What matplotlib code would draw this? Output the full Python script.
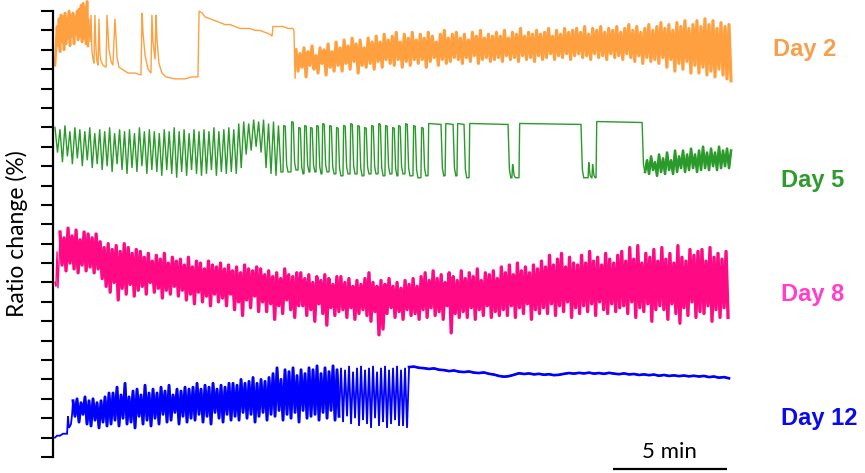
import numpy as np
import matplotlib
matplotlib.use("Agg")
import matplotlib.pyplot as plt

# Traces are stacked on one ratio axis (ticks every 10 %); time in minutes.

# ---------------- Day 2 ----------------
day2_burst_span = (0.0, 1.45)
day2_burst = [202, 211, 222, 212, 226, 209, 228, 214, 227, 210, 229, 213, 226, 216, 230, 212,
              228, 217, 229, 213, 227, 218, 230, 215, 231, 217, 233, 214, 234, 216, 232, 213,
              235, 212]
day2_mid_t = [1.49, 1.54, 1.58, 1.62, 1.67, 1.71, 1.75, 1.80, 1.84, 1.89, 1.93, 1.97, 2.02, 2.11,
              2.24, 2.28, 2.32, 2.37, 2.46, 2.54, 2.63, 2.68, 2.72, 2.81, 2.94, 3.20, 3.51, 3.77,
              3.82, 3.86, 3.95, 4.08, 4.21, 4.25, 4.30, 4.39, 4.43, 4.47, 4.56, 4.69, 4.87, 5.26,
              5.70, 6.01, 6.27, 6.32, 6.45, 6.58, 6.80, 7.02, 7.24, 7.46, 7.68, 7.89, 8.11, 8.33,
              8.55, 8.77, 8.99, 9.21, 9.43, 9.52, 9.56, 9.78, 10.00, 10.22, 10.44, 10.48, 10.53]
day2_mid = [226, 214, 228, 209, 205, 203, 228, 210, 204, 202, 226, 208, 204, 202,
            201, 228, 220, 210, 204, 202, 226, 216, 206, 201, 200, 198, 198, 197,
            229, 219, 207, 200, 198, 228, 214, 205, 228, 216, 203, 198, 196, 195,
            195, 196, 196, 230, 229, 227, 226, 225, 224, 223, 223, 222, 221, 221,
            221, 220, 220, 219, 218, 217, 222, 222, 222, 221, 221, 220, 195]
day2_band_span = (10.57, 29.65)
day2_band = [210, 199, 208, 201, 211, 196, 209, 202, 212, 200, 207, 198, 211, 203, 210, 197, 213, 201, 209, 199,
             214, 202, 211, 199, 215, 203, 212, 200, 216, 204, 213, 198, 215, 202, 211, 201, 216, 203, 214, 200,
             217, 204, 214, 201, 218, 205, 215, 203, 217, 202, 219, 205, 214, 201, 218, 204, 216, 202, 219, 205,
             215, 203, 218, 205, 216, 201, 219, 204, 217, 206, 214, 202, 218, 205, 220, 203, 216, 204, 218, 206,
             219, 205, 216, 203, 218, 206, 215, 204, 219, 207, 217, 203, 220, 205, 216, 206, 218, 204, 217, 205,
             219, 206, 217, 204, 220, 207, 216, 205, 219, 206, 218, 204, 221, 207, 217, 205, 219, 206, 218, 204,
             220, 207, 218, 205, 219, 206, 221, 208, 217, 205, 220, 207, 218, 206, 221, 208, 219, 205, 220, 207,
             221, 208, 219, 206, 222, 207, 218, 205, 221, 208, 220, 206, 222, 207, 219, 205, 221, 208, 220, 206,
             222, 207, 219, 205, 221, 208, 223, 206, 220, 204, 222, 207, 219, 203, 221, 206, 223, 204, 220, 205,
             222, 203, 224, 206, 221, 201, 223, 205, 220, 199, 224, 203, 222, 200, 225, 204, 221, 198, 223, 202,
             225, 198, 222, 201, 226, 197, 223, 199, 225, 196, 221, 200, 224, 197, 222, 195, 223, 194]

# ---------------- Day 5 ----------------
day5_early_span = (0.0, 9.91)
day5_early = [170, 157, 169, 152, 171, 155, 168, 151, 170, 154,
              169, 150, 168, 153, 170, 149, 167, 151, 169, 148,
              168, 150, 170, 147, 167, 151, 169, 148, 168, 146,
              169, 149, 167, 147, 170, 150, 168, 146, 169, 148,
              168, 147, 167, 145, 169, 148, 168, 146, 170, 144,
              168, 147, 169, 145, 167, 148, 169, 146, 168, 145,
              169, 146, 168, 148, 170, 145, 168, 147, 169, 146,
              170, 147, 169, 146, 172, 149, 173, 156, 172, 158,
              174, 160, 173, 157, 174, 149, 172, 146, 173, 145, 171, 147]
day5_pulse_on = [10.00, 10.35, 10.66, 10.92, 11.18, 11.45, 11.71, 12.02, 12.32, 12.63,
                 12.94, 13.25, 13.55, 13.86, 14.17, 14.47, 14.78, 15.04, 15.35, 15.70,
                 16.05, 16.36, 17.11, 17.63, 18.16, 20.04, 20.35, 23.38, 23.55, 23.73]
day5_pulse_off = [10.10, 10.45, 10.76, 11.02, 11.28, 11.55, 11.81, 12.12, 12.42, 12.73,
                  13.04, 13.35, 13.65, 13.96, 14.27, 14.57, 14.88, 15.14, 15.45, 15.80,
                  16.15, 16.93, 17.46, 17.94, 19.87, 20.08, 23.07, 23.41, 23.58, 25.75]
day5_pulse_top = [171, 173, 170, 171, 170, 171, 172, 171, 170, 171,
                  172, 171, 170, 171, 172, 171, 170, 171, 172, 171,
                  170, 172, 172, 172, 172, 151, 172, 152, 151, 173]
day5_pulse_base = [147, 148, 146, 147, 147, 146, 147, 146, 145, 146,
                   146, 145, 146, 146, 145, 146, 145, 146, 145, 144,
                   145, 145, 145, 144, 144, 144, 144, 144, 144, 147]
day5_late_span = (25.88, 29.65)
day5_late = [147, 153, 146, 155, 148, 152, 145, 156, 147, 154, 146, 157, 148, 153, 146, 158,
             147, 155, 149, 158, 147, 156, 148, 159, 149, 156, 147, 158, 148, 160, 149, 157,
             148, 159, 150, 157, 148, 160, 149, 158, 150, 159, 149, 158]

# ---------------- Day 8 ----------------
day8_start_t = [0.00, 0.04, 0.09, 0.13, 0.18]
day8_start = [90, 88, 106, 87, 101]
day8_band_span = (0.22, 29.52)
day8_band = [116, 99, 113, 96, 118, 100, 114, 97, 117, 95, 112, 99, 116, 96, 115, 98, 113, 95, 115, 97,
             111, 92, 108, 88, 110, 85, 107, 90, 109, 81, 106, 87, 110, 84, 108, 89, 105, 83, 107, 86,
             106, 88, 103, 84, 105, 90, 101, 85, 104, 87, 102, 82, 105, 86, 100, 84, 103, 88, 101, 83,
             102, 86, 99, 81, 103, 84, 98, 79, 101, 85, 100, 80, 97, 83, 101, 78, 99, 84, 98, 80,
             100, 82, 97, 78, 99, 84, 96, 76, 98, 80, 95, 73, 99, 81, 97, 77, 96, 83, 98, 75,
             97, 80, 94, 75, 96, 79, 93, 71, 95, 78, 92, 74, 97, 81, 94, 76, 93, 72, 95, 78,
             95, 78, 92, 73, 94, 76, 90, 70, 93, 79, 91, 74, 94, 68, 92, 77, 89, 73, 93, 75,
             93, 76, 90, 72, 92, 77, 88, 71, 91, 74, 89, 76, 92, 73, 95, 70, 90, 75, 88, 63,
             91, 66, 89, 74, 92, 77, 88, 72, 90, 75, 87, 71, 91, 76, 89, 73, 92, 74, 88, 71,
             93, 76, 95, 72, 91, 77, 96, 73, 92, 75, 94, 71, 90, 78, 95, 64, 93, 74, 91, 72,
             96, 75, 92, 72, 95, 77, 93, 71, 97, 76, 91, 73, 95, 78, 94, 72, 96, 75, 92, 73,
             98, 76, 95, 73, 99, 78, 94, 72, 100, 77, 96, 74, 98, 79, 95, 71, 99, 76, 97, 74,
             101, 77, 98, 74, 104, 79, 99, 73, 102, 78, 105, 75, 98, 80, 103, 72, 100, 77, 99, 74,
             104, 78, 100, 75, 106, 79, 101, 73, 103, 80, 99, 76, 105, 74, 102, 79, 100, 75, 104, 77,
             106, 78, 101, 74, 108, 80, 102, 72, 109, 77, 100, 75, 105, 79, 103, 70, 107, 76, 101, 78,
             108, 76, 102, 71, 105, 79, 100, 74, 109, 69, 103, 77, 101, 73, 107, 80, 104, 72, 106, 75,
             107, 74, 101, 78, 108, 70, 103, 76, 105, 72, 102, 77, 106, 72]

# ---------------- Day 12 ----------------
day12_start_t = [0.00, 0.09, 0.22, 0.35, 0.53, 0.57, 0.61, 0.66, 0.70, 0.75]
day12_start = [10, 11, 11, 12, 12, 21, 15, 16, 17, 22]
day12_band_span = (0.79, 15.44)
day12_band = [29, 21, 30, 18, 28, 22, 31, 17, 29, 16, 30, 19, 28, 15, 29, 18, 31, 16, 33, 17,
              33, 19, 36, 16, 32, 20, 38, 17, 31, 18, 34, 15, 35, 21, 32, 17, 37, 19, 33, 16,
              35, 20, 33, 17, 36, 22, 34, 18, 37, 19, 32, 23, 35, 17, 34, 21, 36, 18, 35, 20,
              36, 19, 38, 22, 35, 18, 37, 21, 36, 17, 38, 23, 35, 20, 37, 18, 36, 22, 38, 19,
              38, 21, 37, 19, 40, 23, 38, 20, 39, 22, 41, 18, 38, 21, 40, 23, 39, 19, 41, 22,
              43, 21, 46, 24, 40, 19, 45, 22, 44, 20, 46, 23, 42, 18, 45, 24, 43, 20, 46, 21,
              45, 22, 47, 19, 43, 23, 46, 20, 44, 24, 47, 19, 45, 21,
              46, 18, 45, 21, 47, 17, 44, 20, 46, 16, 47, 19, 45, 17, 46, 15, 47, 20,
              44, 16, 46, 18, 47, 15, 45, 17, 46, 19, 47, 16, 45, 16, 46, 15]
day12_plateau_span = (15.53, 29.56)
day12_plateau = [46.4, 46.6, 46.0, 45.8, 45.4, 45.7, 45.0, 44.8, 44.3, 44.6, 44.0, 43.8, 44.1,
                 43.5, 43.3, 43.6, 42.9, 42.5, 41.8, 41.4, 41.7, 42.4, 43.2, 42.8, 43.1, 42.6,
                 42.9, 42.4, 42.7, 42.2, 42.4, 42.9, 43.3, 43.0, 43.4, 43.1, 43.5, 43.0, 43.3,
                 42.9, 43.4, 43.0, 42.7, 43.1, 42.6, 42.8, 42.3, 42.6, 42.2, 42.5, 41.9, 42.3,
                 41.8, 42.1, 41.7, 42.0, 41.6, 41.9, 41.5, 41.8, 41.2, 41.5, 40.9, 41.2, 40.6]

day_labels = ["Day 2", "Day 5", "Day 8", "Day 12"]
trace_colors = ["#FFA040", "#2A9A2A", "#FF0A84", "#0000FF"]
label_colors = ["#F7A04C", "#2E9B2E", "#FF3FCB", "#0A0AEE"]
label_x = [31.49, 31.84, 31.84, 31.84]
label_y = [206.7, 139.2, 80.4, 16.5]

scale_bar_start = 24.47
scale_bar_minutes = 5


def on_grid(span, values):
    return np.linspace(span[0], span[1], len(values)), np.asarray(values, float)


def pulse_train(on, off, top, base, start_level):
    t, v = [], []
    prev = start_level
    for a, b, hi, lo in zip(on, off, top, base):
        t += [a, a + 0.03, b, b + 0.06, b + 0.12]
        v += [prev, hi, hi - 0.5, lo + 0.15 * (hi - lo), lo]
        prev = lo
    return np.array(t), np.array(v)


# assemble the four traces
t2a, v2a = on_grid(day2_burst_span, day2_burst)
t2c, v2c = on_grid(day2_band_span, day2_band)
day2_t = np.concatenate([t2a, day2_mid_t, t2c])
day2_v = np.concatenate([v2a, day2_mid, v2c])

t5a, v5a = on_grid(day5_early_span, day5_early)
t5b, v5b = pulse_train(day5_pulse_on, day5_pulse_off, day5_pulse_top, day5_pulse_base, day5_early[-1])
t5c, v5c = on_grid(day5_late_span, day5_late)
day5_t = np.concatenate([t5a, t5b, t5c])
day5_v = np.concatenate([v5a, v5b, v5c])

t8b, v8b = on_grid(day8_band_span, day8_band)
day8_t = np.concatenate([day8_start_t, t8b])
day8_v = np.concatenate([day8_start, v8b])

t12b, v12b = on_grid(day12_band_span, day12_band)
t12c, v12c = on_grid(day12_plateau_span, day12_plateau)
day12_t = np.concatenate([day12_start_t, t12b, t12c])
day12_v = np.concatenate([day12_start, v12b, v12c])

traces = [(day2_t, day2_v), (day5_t, day5_v), (day8_t, day8_v), (day12_t, day12_v)]
widths = [1.0, 1.0, 1.0, 1.3]
# fast, densely packed oscillation stretches are drawn with a heavier stroke
dense_parts = [(t2a, v2a, 0, 1.9), (t2c, v2c, 0, 2.3), (t5c, v5c, 1, 1.9), (t8b, v8b, 2, 2.4),
               (t12b[:134], v12b[:134], 3, 2.1), (t12c, v12c, 3, 1.9)]

fig = plt.figure(figsize=(8.65, 4.73), dpi=100)
ax = fig.add_axes([52.5 / 865, 16 / 473, (865 - 52.5) / 865, 446 / 473])
px_per_min = 22.8
x0 = -2.5 / px_per_min
ax.set_xlim(x0, x0 + 812.5 / px_per_min)
ax.set_ylim(0, 230)

for (t, v), c, lw in zip(traces, trace_colors, widths):
    ax.plot(t, v, color=c, lw=lw, clip_on=False, solid_joinstyle="miter")
for t, v, k, lw in dense_parts:
    ax.plot(t, v, color=trace_colors[k], lw=lw, clip_on=False)

for name, c, x, y in zip(day_labels, label_colors, label_x, label_y):
    ax.text(x, y, name, color=c, fontsize=17, fontweight="bold",
            family="Liberation Sans", ha="left", va="baseline")

# scale bar
ax.plot([scale_bar_start, scale_bar_start + scale_bar_minutes], [-6.2, -6.2],
        color="black", lw=1.6, clip_on=False, solid_capstyle="butt")
ax.text(scale_bar_start + scale_bar_minutes / 2, -0.5, f"{scale_bar_minutes} min",
        fontsize=16, family="Lato", ha="center", va="baseline")

for side in ("top", "right", "bottom"):
    ax.spines[side].set_visible(False)
ax.spines["left"].set_linewidth(1.6)
ax.set_xticks([])
ax.set_yticks(np.arange(0, 231, 10))
ax.set_yticklabels([])
ax.tick_params(axis="y", direction="out", length=8.6, width=1.5)

fig.text(17 / 865, 1 - 234 / 473, "Ratio change (%)", rotation=90,
         ha="center", va="center", fontsize=16.5, family="Lato")

fig.savefig("out.png", dpi=100)
